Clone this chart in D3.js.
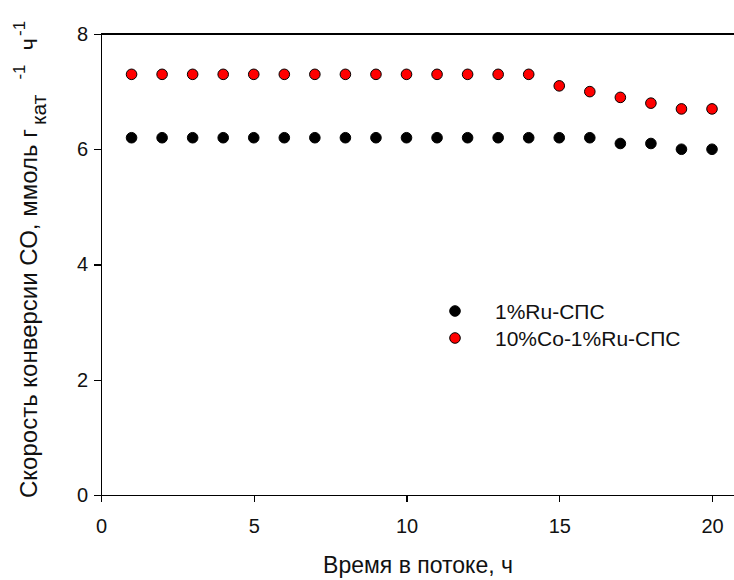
<!DOCTYPE html>
<html>
<head>
  <script src="https://d3js.org/d3.v7.min.js"></script>
  <style>
    body { margin: 0; background: #fff; }
    svg text { font-family: "Liberation Sans", Arial, sans-serif; fill: #111; }
    .axis path, .axis line { stroke: #000; stroke-width: 1.3; shape-rendering: crispEdges; }
    .axis text { font-size: 20px; }
  </style>
</head>
<body>
  <svg id="chart" width="734" height="580"></svg>
  <script>
    var hours = [1, 2, 3, 4, 5, 6, 7, 8, 9, 10, 11, 12, 13, 14, 15, 16, 17, 18, 19, 20];
    var ruSps = [6.2, 6.2, 6.2, 6.2, 6.2, 6.2, 6.2, 6.2, 6.2, 6.2, 6.2, 6.2, 6.2, 6.2, 6.2, 6.2, 6.1, 6.1, 6.0, 6.0];
    var coRuSps = [7.3, 7.3, 7.3, 7.3, 7.3, 7.3, 7.3, 7.3, 7.3, 7.3, 7.3, 7.3, 7.3, 7.3, 7.1, 7.0, 6.9, 6.8, 6.7, 6.7];
    var seriesNames = ['1%Ru-СПС', '10%Co-1%Ru-СПС'];
    var seriesColors = ['#000', '#ff0000'];
    var xTicks = [0, 5, 10, 15, 20];
    var yTicks = [0, 2, 4, 6, 8];

    var svg = d3.select('#chart');
    var mLeft = 101, mTop = 34, mBottom = 495, mRight = 734;

    var x = d3.scaleLinear().domain([0, 20.72]).range([mLeft, mRight]);
    var y = d3.scaleLinear().domain([0, 8]).range([mBottom, mTop]);

    // axes
    svg.append('g')
      .attr('class', 'axis')
      .attr('transform', 'translate(0,' + mBottom + ')')
      .call(d3.axisBottom(x).tickValues(xTicks).tickSize(7).tickSizeOuter(0).tickPadding(17));
    svg.append('g')
      .attr('class', 'axis')
      .attr('transform', 'translate(' + mLeft + ',0)')
      .call(d3.axisLeft(y).tickValues(yTicks).tickSize(7).tickSizeOuter(0).tickPadding(6));

    // top line at y = 8
    svg.append('line')
      .attr('x1', mLeft).attr('x2', mRight)
      .attr('y1', y(8)).attr('y2', y(8))
      .attr('stroke', '#000').attr('stroke-width', 1.3)
      .attr('shape-rendering', 'crispEdges');

    var allSeries = [ruSps, coRuSps];
    allSeries.forEach(function (vals, k) {
      svg.append('g').selectAll('circle')
        .data(vals)
        .enter()
        .append('circle')
        .attr('cx', function (d, i) { return x(hours[i]); })
        .attr('cy', function (d) { return y(d); })
        .attr('r', 5.3)
        .attr('fill', seriesColors[k])
        .attr('stroke', '#000')
        .attr('stroke-width', 1);
    });

    // legend
    var legend = svg.append('g').attr('transform', 'translate(455,311)');
    seriesNames.forEach(function (name, k) {
      var row = legend.append('g').attr('transform', 'translate(0,' + (k * 27) + ')');
      row.append('circle')
        .attr('r', 5.3)
        .attr('fill', seriesColors[k])
        .attr('stroke', '#000');
      row.append('text')
        .attr('x', 40)
        .attr('dy', '0.36em')
        .style('font-size', '21px')
        .text(name);
    });

    // axis titles
    svg.append('text')
      .attr('x', 418)
      .attr('y', 573)
      .attr('text-anchor', 'middle')
      .style('font-size', '23px')
      .text('Время в потоке, ч');

    // y title with sub/superscripts
    var yt = svg.append('text')
      .attr('transform', 'translate(37,498) rotate(-90)')
      .attr('text-anchor', 'start')
      .style('font-size', '24px');
    yt.append('tspan').text('Скорость конверсии СО, ммоль г');
    yt.append('tspan').attr('dx', 4).attr('dy', 9).style('font-size', '21px').text('кат');
    yt.append('tspan').attr('dx', 15).attr('dy', -21).style('font-size', '17px').text('-1');
    yt.append('tspan').attr('dx', 14).attr('dy', 12).text('ч');
    yt.append('tspan').attr('dx', 2).attr('dy', -12).style('font-size', '17px').text('-1');
  </script>
</body>
</html>
